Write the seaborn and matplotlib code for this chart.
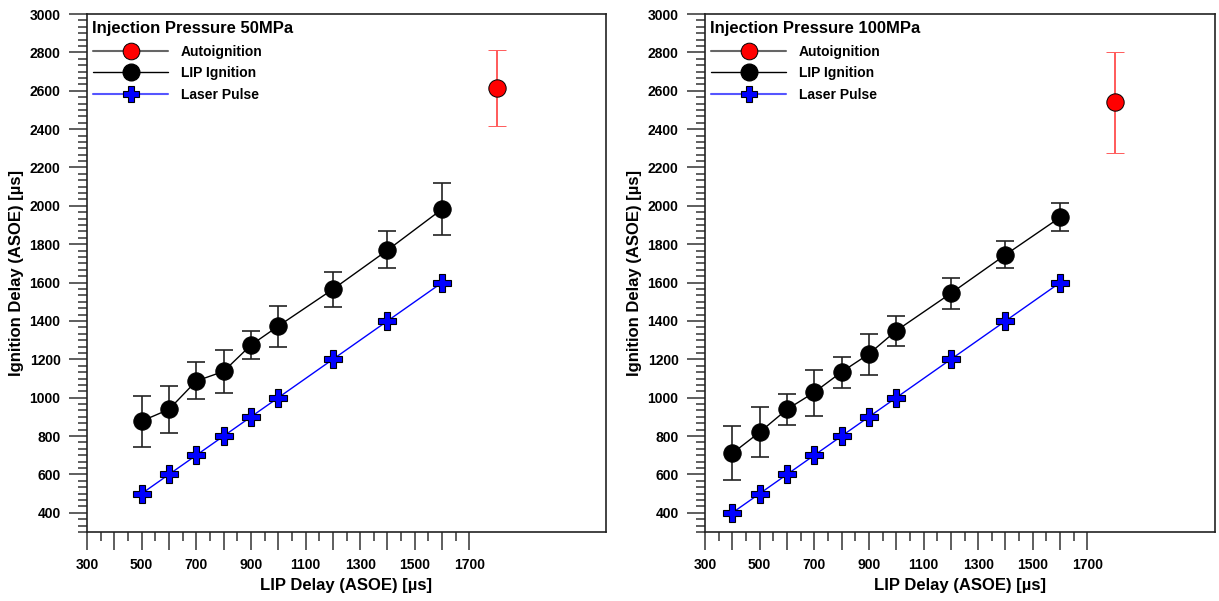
import numpy as np
import pandas as pd
import matplotlib
matplotlib.use("Agg")
import matplotlib.pyplot as plt
import seaborn as sns
from matplotlib.lines import Line2D
from matplotlib.ticker import MultipleLocator, FixedLocator, FuncFormatter

sns.set_style("ticks")
plt.rcParams["font.family"] = ["Liberation Sans", "DejaVu Sans"]
plt.rcParams["font.weight"] = "bold"
plt.rcParams["axes.labelweight"] = "bold"
plt.rcParams["text.color"] = "black"
plt.rcParams["axes.labelcolor"] = "black"
plt.rcParams["xtick.color"] = "black"
plt.rcParams["ytick.color"] = "black"

# ---------------------------------------
# Data
# ---------------------------------------
# 50 MPa
lip_x_50 = [500, 600, 700, 800, 900, 1000, 1200, 1400, 1600]
lip_y_50 = [878, 939, 1087, 1137, 1274, 1373, 1565, 1769, 1983]
lip_lo_50 = [744, 817, 993, 1026, 1200, 1266, 1471, 1676, 1848]
lip_hi_50 = [1010, 1061, 1184, 1250, 1349, 1478, 1657, 1867, 2117]
laser_x_50 = [500, 600, 700, 800, 900, 1000, 1200, 1400, 1600]
laser_y_50 = [500, 600, 700, 800, 900, 1000, 1200, 1400, 1600]
auto_x_50 = [1800]
auto_y_50 = [2614]
auto_lo_50 = [2416]
auto_hi_50 = [2812]

# 100 MPa
lip_x_100 = [400, 500, 600, 700, 800, 900, 1000, 1200, 1400, 1600]
lip_y_100 = [710, 820, 939, 1028, 1134, 1228, 1349, 1544, 1745, 1940]
lip_lo_100 = [571, 692, 858, 904, 1050, 1118, 1271, 1462, 1674, 1869]
lip_hi_100 = [851, 953, 1018, 1144, 1214, 1333, 1427, 1625, 1816, 2013]
laser_x_100 = [400, 500, 600, 700, 800, 900, 1000, 1200, 1400, 1600]
laser_y_100 = [400, 500, 600, 700, 800, 900, 1000, 1200, 1400, 1600]
auto_x_100 = [1800]
auto_y_100 = [2540]
auto_lo_100 = [2277]
auto_hi_100 = [2802]

panel_titles = ["Injection Pressure 50MPa", "Injection Pressure 100MPa"]
legend_labels = ["Autoignition", "LIP Ignition", "Laser Pulse"]
x_label = "LIP Delay (ASOE) [\u00b5s]"
y_label = "Ignition Delay (ASOE) [\u00b5s]"

W, H = 1219, 601
fig = plt.figure(figsize=(W / 100, H / 100), dpi=100)
ax1 = fig.add_axes([87 / W, 69 / H, 519 / W, 518 / H])
ax2 = fig.add_axes([705 / W, 69 / H, 510 / W, 518 / H])

BLUE = "#0000ff"


def draw_panel(ax, title, lx, ly, llo, lhi, px, py, ax_x, ay, alo, ahi, xmax):
    lip = pd.DataFrame({"x": lx, "y": ly})
    laser = pd.DataFrame({"x": px, "y": py})

    # LIP ignition error bars + line
    ly_a = np.array(ly)
    ax.errorbar(lx, ly, yerr=[ly_a - np.array(llo), np.array(lhi) - ly_a],
                fmt="none", ecolor="#222222", elinewidth=1.2, capsize=6.5,
                capthick=1.2, zorder=2)
    sns.lineplot(data=lip, x="x", y="y", ax=ax, color="black", lw=1,
                 marker="o", markersize=12.5, markeredgecolor="black",
                 markerfacecolor="black", sort=False, errorbar=None, zorder=3)

    # laser pulse
    sns.lineplot(data=laser, x="x", y="y", ax=ax, color=BLUE, lw=1,
                 marker="P", markersize=13, markerfacecolor=BLUE,
                 markeredgecolor="black", markeredgewidth=0.8, sort=False,
                 errorbar=None, zorder=3)

    # autoignition
    ay_a = np.array(ay)
    ax.errorbar(ax_x, ay, yerr=[ay_a - np.array(alo), np.array(ahi) - ay_a],
                fmt="o", color="#ff0000", ecolor="#ff5a5a", elinewidth=1.4,
                capsize=6.5, capthick=1.4, markersize=12.5,
                markeredgecolor="black", markeredgewidth=0.7, zorder=4)

    ax.set_xlim(300, xmax)
    ax.set_ylim(300, 3000)

    ax.xaxis.set_major_locator(FixedLocator(list(range(300, 1701, 100))))
    ax.xaxis.set_minor_locator(FixedLocator(list(range(350, 1700, 100))))
    ax.xaxis.set_major_formatter(
        FuncFormatter(lambda v, p: f"{int(v)}" if int(v) % 200 == 100 else ""))
    ax.yaxis.set_major_locator(MultipleLocator(200))
    ax.yaxis.set_minor_locator(MultipleLocator(100 / 3))
    ax.yaxis.set_major_formatter(FuncFormatter(lambda v, p: f"{int(v)}"))

    ax.tick_params(which="major", direction="out", length=13, width=1.1,
                   color="#333333", labelsize=10, pad=6, labelcolor="black")
    ax.tick_params(which="minor", direction="out", length=6.5, width=1.1,
                   color="#333333")
    for lab in ax.get_xticklabels() + ax.get_yticklabels():
        lab.set_fontweight("bold")
    for s in ax.spines.values():
        s.set_visible(True)
        s.set_linewidth(1.2)
        s.set_color("#222222")

    ax.set_xlabel(x_label, fontsize=12, fontweight="bold", labelpad=4)
    ax.set_ylabel(y_label, fontsize=12, fontweight="bold", labelpad=4)

    ax.text(0.01, 0.987, title, transform=ax.transAxes, ha="left", va="top",
            fontsize=12, fontweight="bold", color="black")

    handles = [
        Line2D([], [], color="#666666", lw=1.5, marker="o", markersize=12,
               markerfacecolor="#ff0000", markeredgecolor="black",
               markeredgewidth=0.7),
        Line2D([], [], color="black", lw=1, marker="o", markersize=12,
               markerfacecolor="black", markeredgecolor="black"),
        Line2D([], [], color="#5555ff", lw=1.5, marker="P", markersize=12,
               markerfacecolor=BLUE, markeredgecolor="black",
               markeredgewidth=0.8),
    ]
    ax.legend(handles, legend_labels, loc="upper left",
              bbox_to_anchor=(0.012, 0.941), frameon=False,
              handlelength=5.4, handletextpad=0.9, labelspacing=0.55,
              borderpad=0, borderaxespad=0, prop={"weight": "bold", "size": 10})


draw_panel(ax1, panel_titles[0], lip_x_50, lip_y_50, lip_lo_50, lip_hi_50,
           laser_x_50, laser_y_50, auto_x_50, auto_y_50, auto_lo_50, auto_hi_50,
           2200)
draw_panel(ax2, panel_titles[1], lip_x_100, lip_y_100, lip_lo_100, lip_hi_100,
           laser_x_100, laser_y_100, auto_x_100, auto_y_100, auto_lo_100,
           auto_hi_100, 2167)

fig.savefig("out.png", dpi=100)
plt.close(fig)
